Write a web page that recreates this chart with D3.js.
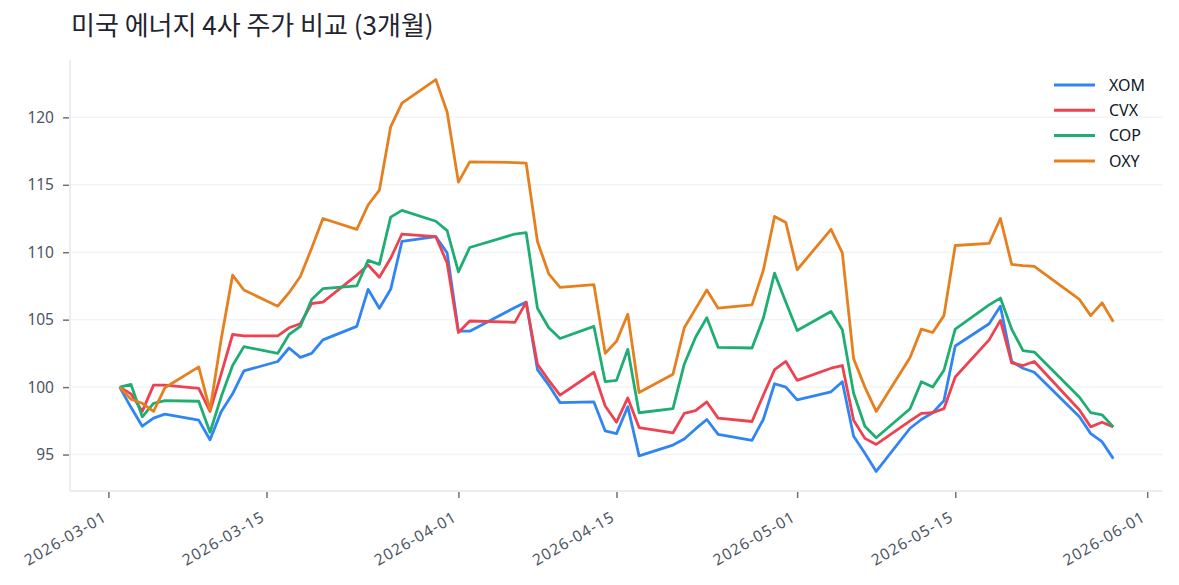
<!DOCTYPE html>
<html>
<head>
<meta charset="utf-8">
<script src="https://cdn.jsdelivr.net/npm/d3@7"></script>
<style>
  body { margin: 0; background: #ffffff; }
  text { font-family: "Noto Sans", "Noto Sans CJK KR", sans-serif; }
</style>
</head>
<body>
<div id="display"></div>
<script>
let w = 1179;
let h = 585;

// trading days (Good Friday and Memorial Day skipped)
const dates = [
  '2026-03-02','2026-03-03','2026-03-04','2026-03-05','2026-03-06',
  '2026-03-09','2026-03-10','2026-03-11','2026-03-12','2026-03-13',
  '2026-03-16','2026-03-17','2026-03-18','2026-03-19','2026-03-20',
  '2026-03-23','2026-03-24','2026-03-25','2026-03-26','2026-03-27',
  '2026-03-30','2026-03-31','2026-04-01','2026-04-02',
  '2026-04-06','2026-04-07','2026-04-08','2026-04-09','2026-04-10',
  '2026-04-13','2026-04-14','2026-04-15','2026-04-16','2026-04-17',
  '2026-04-20','2026-04-21','2026-04-22','2026-04-23','2026-04-24',
  '2026-04-27','2026-04-28','2026-04-29','2026-04-30','2026-05-01',
  '2026-05-04','2026-05-05','2026-05-06','2026-05-07','2026-05-08',
  '2026-05-11','2026-05-12','2026-05-13','2026-05-14','2026-05-15',
  '2026-05-18','2026-05-19','2026-05-20','2026-05-21','2026-05-22',
  '2026-05-26','2026-05-27','2026-05-28','2026-05-29'
];

const xom = [100, 98.5, 97.1, 97.7, 98.0, 97.55, 96.1, 98.2, 99.5, 101.2,
  101.9, 102.9, 102.2, 102.5, 103.5, 104.5, 107.25, 105.85, 107.25, 110.8,
  111.15, 109.95, 104.15, 104.15, 105.9, 106.3, 101.3, 100.15, 98.85,
  98.9, 96.75, 96.55, 98.55, 94.9, 95.7, 96.15, 96.9, 97.6, 96.5,
  96.05, 97.6, 100.25, 100.0, 99.05, 99.65, 100.4, 96.35, 95.1, 93.75,
  96.95, 97.6, 98.1, 99.0, 103.05, 104.7, 106.0, 101.9, 101.4, 101.1,
  97.8, 96.55, 95.95, 94.7];

const cvx = [100, 99.5, 98.2, 100.15, 100.15, 99.9, 98.2, 101.0, 103.9, 103.8,
  103.8, 104.4, 104.7, 106.2, 106.3, 108.3, 109.05, 108.15, 109.55, 111.35,
  111.15, 109.2, 104.05, 104.9, 104.8, 106.3, 101.7, 100.5, 99.4,
  101.1, 98.6, 97.4, 99.2, 97.0, 96.6, 98.05, 98.25, 98.9, 97.7,
  97.45, 99.4, 101.3, 101.9, 100.5, 101.4, 101.6, 97.55, 96.2, 95.75,
  97.5, 98.05, 98.1, 98.4, 100.75, 103.5, 104.95, 101.8, 101.6, 101.9,
  98.3, 97.05, 97.4, 97.05];

const cop = [100, 100.2, 97.8, 98.8, 99.0, 98.95, 96.65, 99.3, 101.6, 103.0,
  102.5, 103.9, 104.5, 106.5, 107.3, 107.5, 109.4, 109.1, 112.6, 113.1,
  112.3, 111.6, 108.55, 110.35, 111.35, 111.45, 105.85, 104.4, 103.6,
  104.5, 100.4, 100.5, 102.8, 98.1, 98.4, 101.7, 103.7, 105.15, 102.95,
  102.9, 105.1, 108.45, 106.3, 104.2, 105.6, 104.25, 99.55, 97.1, 96.25,
  98.4, 100.4, 100.0, 101.25, 104.3, 106.1, 106.6, 104.3, 102.7, 102.6,
  99.25, 98.1, 97.95, 97.05];

const oxy = [100, 99.1, 98.8, 98.2, 99.95, 101.5, 98.3, 103.6, 108.3, 107.2,
  106.0, 107.0, 108.2, 110.3, 112.5, 111.7, 113.5, 114.6, 119.3, 121.05,
  122.8, 120.4, 115.2, 116.7, 116.65, 116.6, 110.8, 108.4, 107.4,
  107.6, 102.5, 103.4, 105.4, 99.6, 100.95, 104.4, 105.8, 107.2, 105.85,
  106.1, 108.65, 112.65, 112.2, 108.7, 111.7, 109.95, 102.1, 100.0, 98.2,
  102.2, 104.3, 104.05, 105.3, 110.5, 110.65, 112.5, 109.1, 109.0, 108.95,
  106.5, 105.3, 106.25, 104.85];

const tickers = ['XOM', 'CVX', 'COP', 'OXY'];
const colors = ['#3085f3', '#ee4251', '#1eae72', '#e6801f'];
const xTicks = ['2026-03-01','2026-03-15','2026-04-01','2026-04-15','2026-05-01','2026-05-15','2026-06-01'];
const yTicks = [95, 100, 105, 110, 115, 120];

const parse = d3.timeParse('%Y-%m-%d');
const fmt = d3.timeFormat('%Y-%m-%d');
const series = [xom, cvx, cop, oxy].map((vals, i) => ({
  name: tickers[i],
  color: colors[i],
  points: vals.map((v, j) => ({ date: parse(dates[j]), value: v }))
}));

const plotLeft = 70, plotRight = 1163, plotTop = 60, plotBottom = 491;

let viz = d3.select('#display')
  .append('svg')
    .attr('width', w)
    .attr('height', h)
    .style('background-color', '#ffffff');

// 5% padding like matplotlib
let tExt = d3.extent(dates, (d) => parse(d));
let tPad = (tExt[1] - tExt[0]) * 0.05;
let xScale = d3.scaleTime()
  .domain([new Date(+tExt[0] - tPad), new Date(+tExt[1] + tPad)])
  .range([plotLeft, plotRight]);

let allVals = [].concat(xom, cvx, cop, oxy);
let vExt = d3.extent(allVals);
let vPad = (vExt[1] - vExt[0]) * 0.05;
let yScale = d3.scaleLinear()
  .domain([vExt[0] - vPad, vExt[1] + vPad])
  .range([plotBottom, plotTop]);

// grid
viz.append('g')
  .selectAll('line')
  .data(yTicks)
  .join('line')
    .attr('x1', plotLeft).attr('x2', plotRight)
    .attr('y1', (d) => yScale(d)).attr('y2', (d) => yScale(d))
    .attr('stroke', '#f2f3f5')
    .attr('stroke-width', 1.5);

// y axis
let yAxis = d3.axisLeft(yScale).tickValues(yTicks).tickSize(6).tickPadding(9);
let yg = viz.append('g')
  .attr('transform', 'translate(' + (plotLeft - 1) + ',0)')
  .call(yAxis);
yg.select('.domain').remove();
yg.selectAll('.tick line').attr('stroke', '#6b7280').attr('stroke-width', 1.5);
yg.selectAll('.tick text')
  .attr('fill', '#4b5563')
  .style('font-size', '15.5px');

// x axis
let xAxis = d3.axisBottom(xScale)
  .tickValues(xTicks.map(parse))
  .tickFormat(fmt)
  .tickSize(6);
let xg = viz.append('g')
  .attr('transform', 'translate(0,' + (plotBottom + 1) + ')')
  .call(xAxis);
xg.select('.domain').remove();
xg.selectAll('.tick line').attr('stroke', '#6b7280').attr('stroke-width', 1.5);
xg.selectAll('.tick text')
  .attr('fill', '#4b5563')
  .style('font-size', '15.5px')
  .style('letter-spacing', '1.1px')
  .attr('text-anchor', 'end')
  .attr('x', 0)
  .attr('y', 0)
  .attr('dy', 0)
  .attr('transform', 'translate(-1,28) rotate(-30)');

// spines
viz.append('line')
  .attr('x1', plotLeft).attr('x2', plotLeft).attr('y1', plotTop).attr('y2', plotBottom)
  .attr('stroke', '#e5e7eb').attr('stroke-width', 1.5);
viz.append('line')
  .attr('x1', plotLeft).attr('x2', plotRight).attr('y1', plotBottom).attr('y2', plotBottom)
  .attr('stroke', '#e5e7eb').attr('stroke-width', 1.5);

// lines
let line = d3.line()
  .x((d) => xScale(d.date))
  .y((d) => yScale(d.value));

viz.append('g')
  .selectAll('path')
  .data(series)
  .join('path')
    .attr('d', (d) => line(d.points))
    .attr('fill', 'none')
    .attr('stroke', (d) => d.color)
    .attr('stroke-width', 2.8)
    .attr('stroke-linejoin', 'round');

// legend
let legend = viz.append('g').attr('transform', 'translate(1054,85)');
let items = legend.selectAll('g')
  .data(series)
  .join('g')
    .attr('transform', (d, i) => 'translate(0,' + (i * 25.3) + ')');
items.append('line')
  .attr('x1', 0).attr('x2', 41)
  .attr('stroke', (d) => d.color)
  .attr('stroke-width', 3);
items.append('text')
  .attr('x', 55)
  .attr('dy', '0.35em')
  .attr('fill', '#111827')
  .style('font-size', '16px')
  .text((d) => d.name);

// title
viz.append('text')
  .attr('x', 71)
  .attr('y', 35)
  .attr('fill', '#1f2430')
  .style('font-family', '"Noto Sans CJK KR", sans-serif')
  .style('font-size', '26px')
  .text('미국 에너지 4사 주가 비교 (3개월)');
</script>
</body>
</html>
